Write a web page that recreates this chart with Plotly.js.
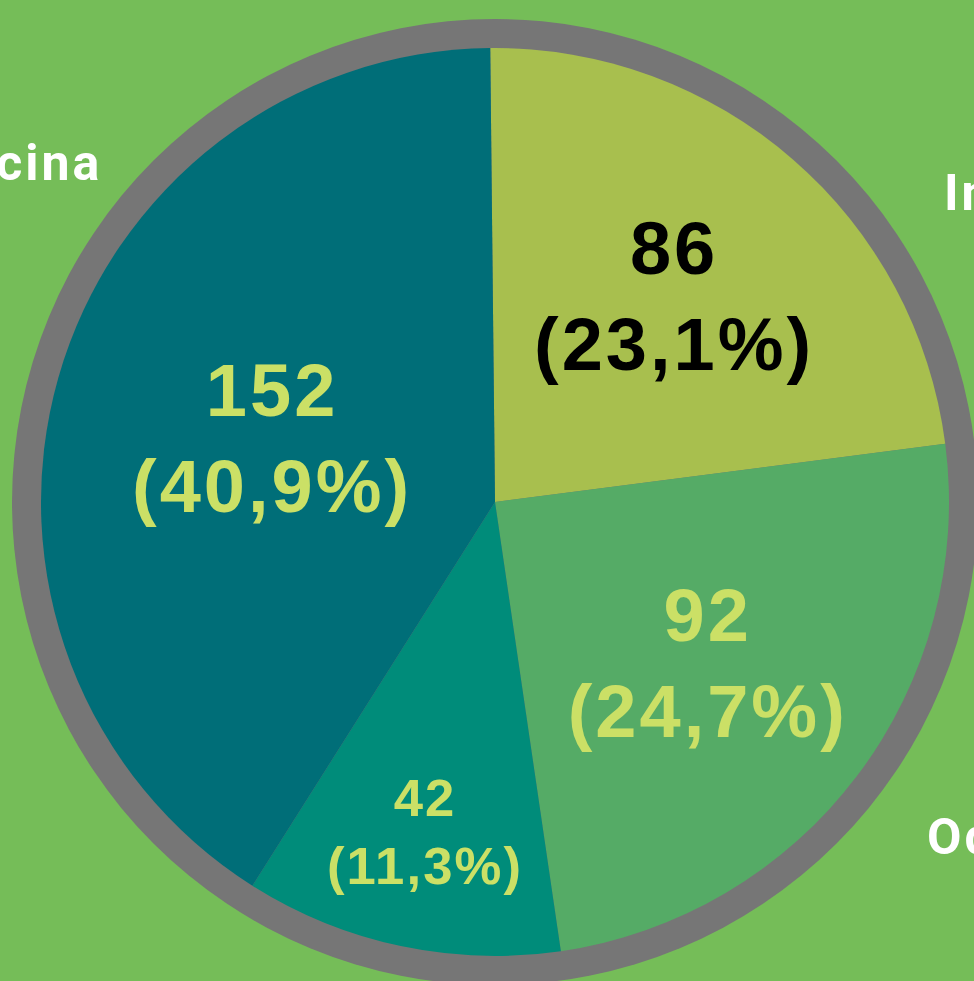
<!DOCTYPE html>
<html>
<head>
<meta charset="utf-8">
<script src="https://cdn.plot.ly/plotly-3.0.1.min.js"></script>
<style>
  html, body { margin: 0; padding: 0; background: #75BD58; overflow: hidden; }
  #chart { width: 974px; height: 981px; }
  .annotation-text { letter-spacing: 3px; }
  .slicetext { letter-spacing: 3px; }
</style>
</head>
<body>
<div id="chart"></div>
<script>
// Data
const categories = ['Ingeniería', 'Odontología', 'Enfermería', 'Medicina'];
const counts = [86, 92, 42, 152];
const sliceColors = ['#A8BF4E', '#55AB66', '#008C7A', '#006E78'];
const textColors = ['#000000', '#CBE066', '#CBE066', '#CBE066'];
const outsideLabels = ['Ingeniería', 'Odontología', 'Medicina'];

const W = 974, H = 981;
const cx = 495, cy = 502, r = 454, ringR = 483;

const pie = {
  type: 'pie',
  labels: categories,
  values: counts,
  sort: false,
  direction: 'clockwise',
  rotation: -0.6,
  marker: { colors: sliceColors, line: { width: 0 } },
  texttemplate: '%{value}<br>(%{percent:.1%})',
  textposition: 'inside',
  insidetextorientation: 'horizontal',
  insidetextfont: { family: 'Liberation Sans, Arial, sans-serif', size: 74, weight: 700, color: textColors },
  hoverinfo: 'skip',
  showlegend: false,
  domain: {
    x: [(cx - r) / W, (cx + r) / W],
    y: [(H - cy - r) / H, (H - cy + r) / H]
  }
};

const labelFont = { family: 'Roboto, sans-serif', size: 50, weight: 700, color: '#FFFFFF' };

const layout = {
  width: W, height: H,
  margin: { l: 0, r: 0, t: 0, b: 0 },
  paper_bgcolor: '#75BD58',
  plot_bgcolor: '#75BD58',
  separators: ',.',
  showlegend: false,
  shapes: [{
    type: 'circle', xref: 'paper', yref: 'paper', layer: 'below',
    x0: (cx - ringR) / W, x1: (cx + ringR) / W,
    y0: (H - cy - ringR) / H, y1: (H - cy + ringR) / H,
    fillcolor: '#767676', line: { width: 0 }
  }],
  annotations: [
    { text: outsideLabels[0], xref: 'paper', yref: 'paper', x: 942 / W, y: 1 - 193 / H, xanchor: 'left', yanchor: 'middle', showarrow: false, font: labelFont },
    { text: outsideLabels[1], xref: 'paper', yref: 'paper', x: 925 / W, y: 1 - 837 / H, xanchor: 'left', yanchor: 'middle', showarrow: false, font: labelFont },
    { text: outsideLabels[2], xref: 'paper', yref: 'paper', x: 104 / W, y: 1 - 163 / H, xanchor: 'right', yanchor: 'middle', showarrow: false, font: labelFont }
  ]
};

Plotly.newPlot('chart', [pie], layout, { displayModeBar: false, staticPlot: true });
</script>
</body>
</html>
